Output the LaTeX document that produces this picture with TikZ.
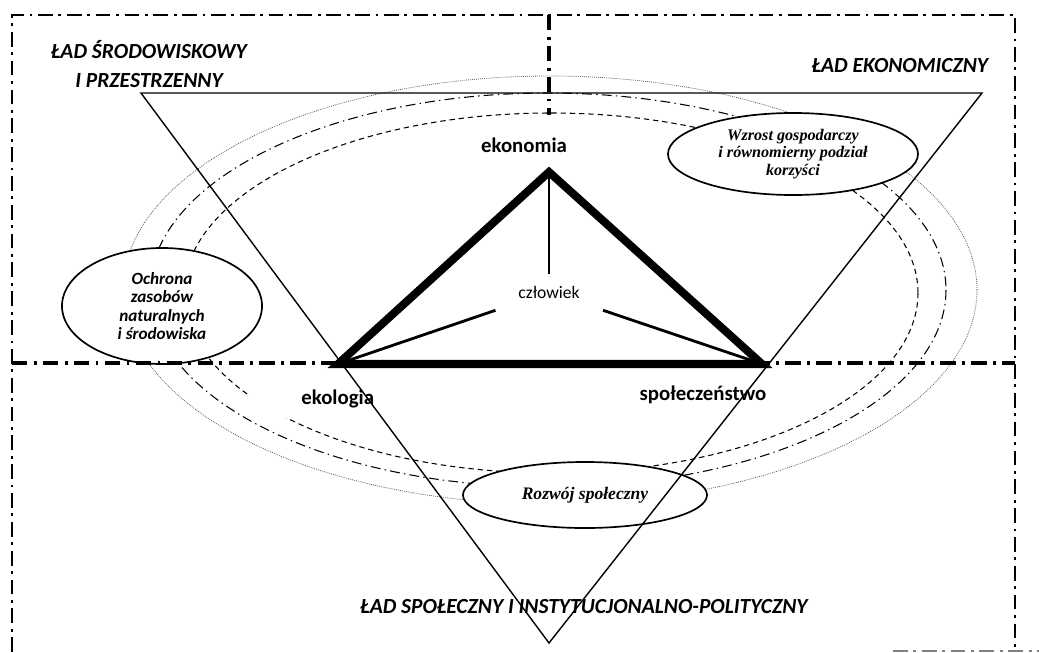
\documentclass[tikz,border=0pt]{standalone}
\usepackage{fontspec}
\setmainfont{Carlito}
\newfontfamily\timesfont{Liberation Serif}
\usepackage{tikz}
\usetikzlibrary{shapes.geometric}

\tikzset{
	frameline/.style={line width=2pt, dash pattern=on 10.5pt off 4pt on 2pt off 4pt},
	axisline/.style={line width=2.2pt, dash pattern=on 11pt off 4.5pt on 2pt off 4.5pt},
	dottedring/.style={black!65, line width=0.55pt, dash pattern=on 0.6pt off 0.8pt},
	dashdotring/.style={line width=0.75pt, dash pattern=on 7pt off 3pt on 1pt off 3pt},
	dashedring/.style={line width=0.75pt, dash pattern=on 3.8pt off 2.8pt},
	goal/.style={ellipse, draw, line width=1.2pt, fill=white, inner sep=0pt, align=center},
	corner/.style={font=\fontsize{15.3}{20}\selectfont\bfseries\itshape, align=center},
	pillar/.style={font=\fontsize{14.8}{17}\selectfont\bfseries},
}

\begin{document}
\begin{tikzpicture}[x=0.025cm, y=-0.025cm]
				\useasboundingbox (0,0) rectangle (1039,652);
				
				%Rings
				\draw[dottedring] (550,290) ellipse [x radius=427, y radius=214];
				\draw[dashdotring] (548,290) ellipse [x radius=398, y radius=197];
				\draw[dashedring] (551,293) ellipse [x radius=367, y radius=180];
				
				%Goals
				\node[goal, minimum width=5cm, minimum height=2.9cm, font=\fontsize{12.2}{13}\selectfont\bfseries\itshape] (ochrona) at (162,306) {Ochrona\\zasobów\\naturalnych\\i środowiska};
				\node[goal, minimum width=6.25cm, minimum height=2.05cm, font=\timesfont\fontsize{11.5}{12.6}\selectfont\bfseries\itshape] (wzrost) at (793,154) {Wzrost gospodarczy\\i równomierny podział\\korzyści};
				\node[goal, minimum width=6.1cm, minimum height=1.65cm, font=\timesfont\fontsize{12.5}{14}\selectfont\bfseries\itshape] (rozwoj) at (585,495) {Rozwój społeczny};
				
				%Level 1
				\node[pillar, fill=white, inner sep=0pt, minimum height=0.95cm, text width=3.1cm, align=right] (ekologia) at (312,399) {ekologia};
				\node[pillar] (ekonomia) at (524,145) {ekonomia};
				\node[pillar] (spoleczenstwo) at (703,395) {społeczeństwo};
				
				%Big triangle
				\coordinate (tl) at (141,93);
				\coordinate (tr) at (982,93);
				\coordinate (tb) at (549,643);
				\draw[line width=1pt] (tl) -- (tr) -- (tb) -- cycle;
				
				%Frame
				\draw[frameline] (12,652) -- (12,15) -- (1015,15) -- (1015,652);
				\draw[axisline] (12,363) -- (1015,363);
				\draw[axisline] (549,15) -- (549,115);
				\draw[gray, line width=2pt, dash pattern=on 10.5pt off 4pt on 2pt off 4pt] (893,651) -- (1039,651);
				
				%Thick triangle
				\coordinate (ekon) at (549,172);
				\coordinate (ekol) at (338,364);
				\coordinate (spol) at (762,364);
				\draw[line width=5.7pt, line join=miter] (ekon) -- (ekol) -- (spol) -- cycle;
				
				%Lines
				\node[minimum width=2.7cm, minimum height=0.9cm, inner sep=0pt, font=\fontsize{12.5}{15}\selectfont] (czlowiek) at (549,292) {człowiek};
				\draw[line width=2pt] (ekon) -- (czlowiek);
				\draw[line width=2pt] (ekol) -- (czlowiek);
				\draw[line width=2pt] (spol) -- (czlowiek);
				
				%Titles
				\node[corner] (srodowisko) at (149,64) {ŁAD ŚRODOWISKOWY\\I PRZESTRZENNY};
				\node[corner] (ekonomiczny) at (900,66) {ŁAD EKONOMICZNY};
				\node[corner] (spoleczny) at (584,607) {ŁAD SPOŁECZNY I INSTYTUCJONALNO-POLITYCZNY};
			\end{tikzpicture}
\end{document}
